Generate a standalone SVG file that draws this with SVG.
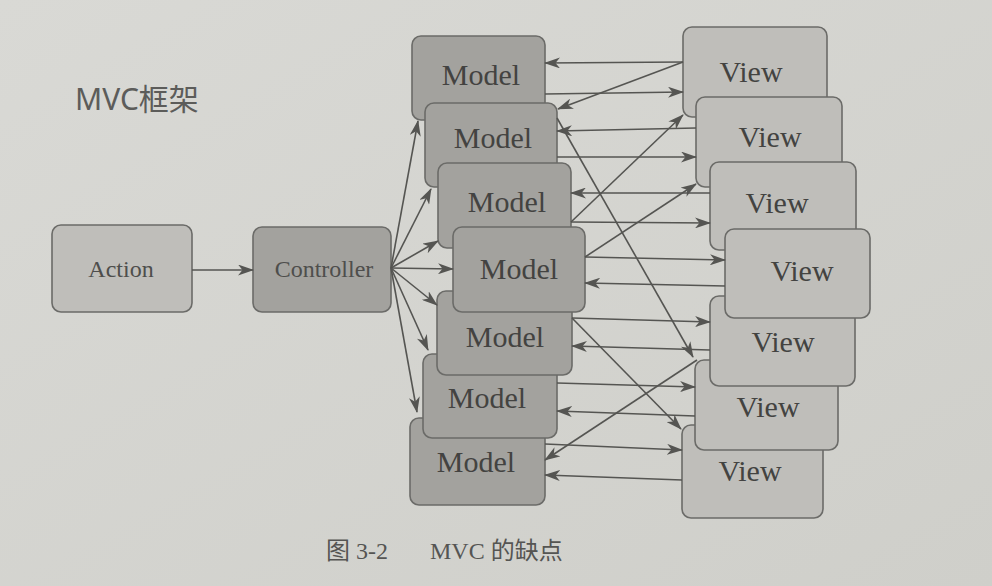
<svg xmlns="http://www.w3.org/2000/svg" width="992" height="586" viewBox="0 0 992 586">
<defs>
<marker id="ah" markerWidth="16" markerHeight="11" refX="15" refY="5.5" orient="auto" markerUnits="userSpaceOnUse">
<path d="M0,0 L16,5.5 L0,11 L4.5,5.5 z" fill="#555552"/>
</marker>
<linearGradient id="bg" x1="0" y1="0" x2="1" y2="1">
<stop offset="0" stop-color="#d9d9d5"/>
<stop offset="1" stop-color="#cfcfca"/>
</linearGradient>
<style>
.m rect{fill:#a3a29e;stroke:#6b6b68;stroke-width:1.6}
.v rect{fill:#bfbeba;stroke:#6b6b68;stroke-width:1.6}
.t{font-family:"Liberation Serif","DejaVu Serif",serif;font-size:30px;fill:#434341;text-anchor:middle}
.s{font-family:"Liberation Serif","DejaVu Serif",serif;font-size:24px;fill:#4e4e4c;text-anchor:middle}
#edges line{stroke:#555552;stroke-width:1.6;marker-end:url(#ah)}
</style>
</defs>
<rect width="992" height="586" fill="url(#bg)"/>
<text x="75" y="110" font-family="'Noto Sans','Noto Sans CJK SC',sans-serif" font-size="30" fill="#5c5c5a">MVC框架</text>

<g id="action" class="v"><rect x="52" y="225" width="140" height="87" rx="9"/><text class="s" x="121" y="277">Action</text></g>
<g id="controller" class="m"><rect x="253" y="227" width="138" height="85" rx="9"/><text class="s" x="324" y="277">Controller</text></g>

<g id="model1" class="m"><rect x="412" y="36" width="133" height="84" rx="9"/><text class="t" x="481" y="85">Model</text></g>
<g id="model7" class="m"><rect x="410" y="418" width="135" height="87" rx="9"/><text class="t" x="476" y="472">Model</text></g>
<g id="model2" class="m"><rect x="425" y="103" width="132" height="84" rx="9"/><text class="t" x="493" y="148">Model</text></g>
<g id="model6" class="m"><rect x="423" y="354" width="134" height="84" rx="9"/><text class="t" x="487" y="408">Model</text></g>
<g id="model3" class="m"><rect x="438" y="163" width="133" height="85" rx="9"/><text class="t" x="507" y="212">Model</text></g>
<g id="model5" class="m"><rect x="437" y="291" width="135" height="84" rx="9"/><text class="t" x="505" y="347">Model</text></g>
<g id="model4" class="m"><rect x="453" y="227" width="132" height="85" rx="9"/><text class="t" x="519" y="279">Model</text></g>

<g id="view1" class="v"><rect x="683" y="27" width="144" height="90" rx="9"/><text class="t" x="751" y="82">View</text></g>
<g id="view7" class="v"><rect x="682" y="425" width="141" height="93" rx="9"/><text class="t" x="750" y="481">View</text></g>
<g id="view2" class="v"><rect x="696" y="97" width="146" height="90" rx="9"/><text class="t" x="770" y="147">View</text></g>
<g id="view6" class="v"><rect x="695" y="360" width="143" height="90" rx="9"/><text class="t" x="768" y="417">View</text></g>
<g id="view3" class="v"><rect x="710" y="162" width="146" height="88" rx="9"/><text class="t" x="777" y="213">View</text></g>
<g id="view5" class="v"><rect x="710" y="296" width="145" height="90" rx="9"/><text class="t" x="783" y="352">View</text></g>
<g id="view4" class="v"><rect x="725" y="229" width="145" height="89" rx="9"/><text class="t" x="802" y="281">View</text></g>

<g id="edges">
<line x1="192" y1="270" x2="253" y2="270"/>
<line x1="391" y1="268" x2="418" y2="121"/>
<line x1="391" y1="268" x2="431" y2="189"/>
<line x1="391" y1="268" x2="438" y2="241"/>
<line x1="391" y1="268" x2="453" y2="269"/>
<line x1="391" y1="268" x2="437" y2="305"/>
<line x1="391" y1="268" x2="428" y2="350"/>
<line x1="391" y1="268" x2="417" y2="412"/>

<line x1="683" y1="62" x2="545" y2="63"/>
<line x1="545" y1="94" x2="683" y2="92"/>
<line x1="683" y1="62" x2="558" y2="109"/>
<line x1="696" y1="128" x2="557" y2="131"/>
<line x1="557" y1="157" x2="696" y2="157"/>
<line x1="557" y1="118" x2="693" y2="357"/>
<line x1="571" y1="222" x2="683" y2="115"/>
<line x1="710" y1="193" x2="571" y2="193"/>
<line x1="571" y1="222" x2="710" y2="223"/>
<line x1="585" y1="257" x2="696" y2="184"/>
<line x1="585" y1="257" x2="725" y2="260"/>
<line x1="725" y1="286" x2="585" y2="283"/>
<line x1="572" y1="318" x2="710" y2="322"/>
<line x1="710" y1="350" x2="572" y2="346"/>
<line x1="572" y1="318" x2="681" y2="429"/>
<line x1="697" y1="360" x2="545" y2="460"/>
<line x1="557" y1="383" x2="695" y2="387"/>
<line x1="695" y1="416" x2="557" y2="411"/>
<line x1="545" y1="444" x2="682" y2="450"/>
<line x1="682" y1="480" x2="545" y2="475"/>
</g>

<g font-family="'Liberation Serif','Noto Sans CJK SC',serif" font-size="24" fill="#555553">
<text x="326" y="559">图 3-2</text>
<text x="430" y="559">MVC 的缺点</text>
</g>
</svg>
